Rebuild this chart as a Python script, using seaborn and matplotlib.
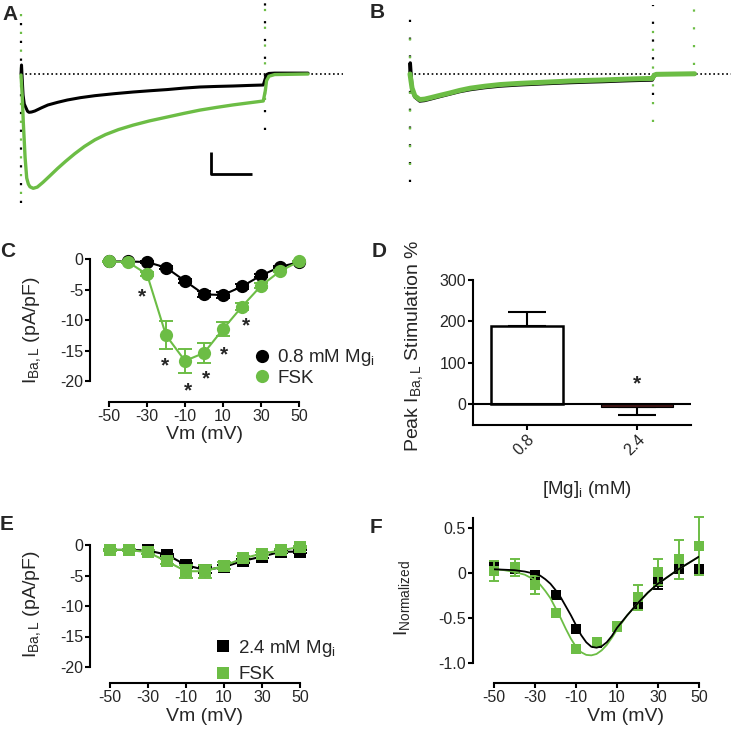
import matplotlib
matplotlib.use("Agg")
import matplotlib.pyplot as plt
from matplotlib.lines import Line2D
from matplotlib.colors import to_hex
import seaborn as sns

W, H = 733, 739
GREEN = "#6cbd45"
BLACK = "#000000"
MAROON = "#4a1010"

# A: example Ba currents, 0.8 mM Mg, control vs FSK (ms, pA)
a_ctl_t = [0, 0.6, 1.5, 2.5, 4, 6.2, 8, 9.8, 13, 17, 25, 33, 45, 57, 73, 91, 115, 138, 160, 180, 200,
           220, 240, 261, 280, 298, 300.5, 302, 305, 312, 353]
a_ctl_i = [0, 81, -50, -189, -270, -306, -335, -345, -342, -333, -305, -279, -255, -234, -213, -195,
           -177, -162, -150, -140, -127, -117, -112, -108, -103, -99, -40, -5, 5, 8, 8]
a_fsk_t = [0, 1.5, 2.8, 5, 7, 9, 11, 15, 20, 27, 35, 45, 55, 66, 78, 91, 104, 120, 138, 158, 180, 200,
           220, 241, 261, 280, 298, 300.5, 302, 305, 312, 353]
a_fsk_i = [-9, -200, -432, -750, -936, -990, -1015, -1029, -1018, -975, -920, -850, -785, -718, -652,
           -592, -545, -500, -460, -422, -387, -355, -325, -300, -278, -260, -243, -150, -60, -20, -5, 0]

# B: example Ba currents, 2.4 mM Mg
b_ctl_t = [0, 0.3, 2.5, 6, 12, 18, 25, 37, 49, 61, 74, 92, 111, 133, 156, 177, 197, 217, 237, 255, 271,
           285, 298, 300.5, 303, 350]
b_ctl_i = [0, 99, -144, -207, -243, -238, -225, -202, -180, -158, -140, -122, -108, -98, -90, -83, -77,
           -72, -68, -63, -59, -56, -54, -15, -3, 0]
b_fsk_t = [0, 2.5, 6, 12, 18, 25, 37, 49, 61, 74, 92, 111, 133, 156, 177, 197, 217, 237, 255, 271, 285,
           298, 300.5, 303, 350]
b_fsk_i = [0, -126, -198, -230, -226, -214, -192, -171, -148, -128, -110, -95, -85, -77, -70, -63, -58,
           -54, -49, -45, -42, -40, -10, -3, 2]

# C: I-V, 0.8 mM Mg
vm = [-50, -40, -30, -20, -10, 0, 10, 20, 30, 40, 50]
c_ctl = [-0.4, -0.4, -0.5, -1.4, -3.6, -5.8, -5.9, -4.5, -2.7, -1.3, -0.5]
c_ctl_sem = [0.1, 0.1, 0.1, 0.2, 0.4, 0.5, 0.5, 0.4, 0.3, 0.2, 0.1]
c_fsk = [-0.4, -0.5, -2.5, -12.5, -16.7, -15.4, -11.5, -7.8, -4.4, -2.0, -0.4]
c_fsk_sem = [0.1, 0.1, 0.3, 2.3, 2.0, 1.6, 1.1, 0.6, 0.4, 0.2, 0.1]
c_star_vm = [-32.5, -20.4, -8.2, 1.2, 10.4, 21.9]
c_star_y = [-5.3, -16.6, -20.7, -18.7, -14.8, -10.0]

# D: peak stimulation by FSK
d_mg = ["0.8", "2.4"]
d_stim = [189, -7]
d_sem = [34, 20]
d_star_y = 62

# E: I-V, 2.4 mM Mg
e_ctl = [-0.8, -0.8, -0.9, -1.6, -3.3, -4.1, -3.6, -2.6, -1.9, -1.1, -1.1]
e_ctl_sem = [0.1, 0.1, 0.1, 0.2, 0.4, 0.5, 0.4, 0.3, 0.2, 0.2, 0.2]
e_fsk = [-0.8, -0.8, -1.2, -2.7, -4.3, -4.3, -3.4, -2.2, -1.4, -0.9, -0.3]
e_fsk_sem = [0.2, 0.2, 0.3, 0.4, 1.1, 1.1, 0.6, 0.4, 0.3, 0.2, 0.2]

# F: normalized I-V with fits
f_ctl = [0.08, 0.04, -0.02, -0.24, -0.62, -0.78, -0.59, -0.35, -0.10, 0.06, 0.04]
f_ctl_sem = [0.03, 0.03, 0.03, 0.03, 0.03, 0.03, 0.03, 0.03, 0.08, 0.06, 0.02]
f_fsk = [0.02, 0.06, -0.13, -0.45, -0.84, -0.77, -0.59, -0.27, 0.01, 0.15, 0.30]
f_fsk_sem = [0.11, 0.09, 0.10, 0.03, 0.03, 0.03, 0.05, 0.14, 0.14, 0.22, 0.32]
f_fit_vm = [-50, -45, -40, -35, -30, -27.5, -25, -22.5, -20, -17.5, -15, -12.5, -10, -7.5, -5, -2.5,
            0, 2.5, 5, 7.5, 10, 12.5, 15, 20, 25, 30, 35, 40, 45, 50]
f_fit_ctl = [0.04, 0.035, 0.03, 0.015, -0.01, -0.03, -0.07, -0.12, -0.19, -0.27, -0.37, -0.47, -0.58,
             -0.69, -0.77, -0.82, -0.83, -0.815, -0.77, -0.70, -0.61, -0.54, -0.47, -0.34, -0.22,
             -0.12, -0.04, 0.04, 0.11, 0.18]
f_fit_fsk = [0.04, 0.03, 0.01, -0.02, -0.08, -0.13, -0.20, -0.28, -0.39, -0.50, -0.62, -0.73, -0.82,
             -0.88, -0.91, -0.915, -0.90, -0.86, -0.80, -0.72, -0.63, -0.55, -0.47, -0.34, -0.22,
             -0.12, -0.04, 0.04, 0.11, 0.18]

sns.set_theme(style="ticks")
plt.rcParams["font.family"] = ["Liberation Sans", "DejaVu Sans"]
plt.rcParams["mathtext.fontset"] = "custom"
plt.rcParams["mathtext.rm"] = "Liberation Sans"
plt.rcParams["mathtext.it"] = "Liberation Sans:italic"
plt.rcParams["axes.unicode_minus"] = False

TICK_FS = 11.5
LABEL_FS = 14

fig = plt.figure(figsize=(W / 100, H / 100), dpi=100)


def add_ax(x0, y0, x1, y1):
    # pixel box (top-left origin) -> figure axes
    return fig.add_axes([x0 / W, 1 - y1 / H, (x1 - x0) / W, (y1 - y0) / H])


def trace_panel(ax, ctl_t, ctl_i, fsk_t, fsk_i, lw_ctl, lw_fsk, xlim, art):
    ax.set_xlim(*xlim)
    ax.set_ylim(-1224, 666)
    ax.axis("off")
    ax.plot([0, xlim[1] - 2], [0, 0], color=BLACK, lw=1.2, ls=(0, (1, 1.6)), zorder=1)
    for t, lo, hi, c in art:
        ax.plot([t, t], [lo, hi], color=c, lw=1.6, ls=(0, (1, 7)), zorder=1)
    sns.lineplot(x=ctl_t, y=ctl_i, ax=ax, color=BLACK, lw=lw_ctl, errorbar=None, sort=False, zorder=3)
    sns.lineplot(x=fsk_t, y=fsk_i, ax=ax, color=GREEN, lw=lw_fsk, errorbar=None, sort=False, zorder=4)


# ---- A ----
axA = add_ax(15, 0, 345, 210)
trace_panel(axA, a_ctl_t, a_ctl_i, a_fsk_t, a_fsk_i, 2.2, 2.4, (-7.4, 398.5),
            [(0, -1165, 460, BLACK), (0.5, -1080, 660, GREEN), (300, -504, 666, BLACK), (300.5, -234, 640, GREEN)])
axA.plot([234, 234, 284], [-700, -900, -900], color=BLACK, lw=2, solid_capstyle="butt")

# ---- B ----
axB = add_ax(400, 0, 733, 210)
trace_panel(axB, b_ctl_t, b_ctl_i, b_fsk_t, b_fsk_i, 2.5, 3.6, (-12.3, 397.3),
            [(0, -972, 620, BLACK), (0.5, -820, 350, GREEN), (299, -190, 620, BLACK),
             (299.5, -430, 500, GREEN), (349, 80, 640, GREEN)])


def iv_axes(ax, left_px, bottom_px, ylim, yticks, yticklabels, ybounds):
    ax.set_xlim(-50, 50)
    ax.set_ylim(*ylim)
    ax.set_xticks([-50, -30, -10, 10, 30, 50])
    ax.set_xticklabels(["-50", "-30", "-10", "10", "30", "50"])
    ax.set_yticks(yticks)
    ax.set_yticklabels(yticklabels)
    sns.despine(ax=ax)
    ax.spines["left"].set_position(("outward", left_px * 0.72))
    ax.spines["bottom"].set_position(("outward", bottom_px * 0.72))
    ax.spines["left"].set_bounds(*ybounds)
    ax.spines["bottom"].set_bounds(-50, 50)
    for s in ("left", "bottom"):
        ax.spines[s].set_linewidth(1.5)
        ax.spines[s].set_color(BLACK)
    ax.tick_params(direction="out", length=3.5, width=1.5, labelsize=TICK_FS, pad=1.5, color=BLACK)
    ax.set_xlabel("Vm (mV)", fontsize=LABEL_FS)


def iv_series(ax, y, sem, color, marker, ms, lw, capsize, z, line=True):
    ax.errorbar(vm, y, yerr=sem, fmt="none", ecolor=color, elinewidth=1.4, capsize=capsize,
                capthick=1.4, zorder=z, clip_on=False)
    sns.lineplot(x=vm, y=y, ax=ax, color=color, lw=lw if line else 0, marker=marker, markersize=ms,
                 markeredgewidth=0, errorbar=None, zorder=z + 0.5, clip_on=False)


# ---- C ----
axC = add_ax(109, 259, 299, 381)
iv_series(axC, c_ctl, c_ctl_sem, BLACK, "o", 9.5, 1.5, 4.7, 3)
iv_series(axC, c_fsk, c_fsk_sem, GREEN, "o", 9.5, 1.5, 4.7, 5)
iv_axes(axC, 19, 21, (-20, 0), [0, -5, -10, -15, -20], ["0", "-5", "-10", "-15", "-20"], (-20, 0))
for x, y in zip(c_star_vm, c_star_y):
    axC.annotate("*", (x, y), xytext=(0, -8), textcoords="offset points", ha="center",
                 va="baseline", fontsize=15, fontweight="bold", annotation_clip=False)
axC.set_ylabel(r"$\mathregular{I_{Ba,L}}$ (pA/pF)", fontsize=LABEL_FS)
axC.yaxis.set_label_coords(-0.347, 0.418)
axC.xaxis.set_label_coords(0.505, -0.369)
hC = [Line2D([], [], ls="none", marker="o", markersize=9.5, markeredgewidth=0, color=BLACK),
      Line2D([], [], ls="none", marker="o", markersize=9.5, markeredgewidth=0, color=GREEN)]
axC.legend(hC, [r"0.8 mM Mg$\mathregular{_i}$", "FSK"], loc="center left", bbox_to_anchor=(0.758, 0.115),
           frameon=False, fontsize=13.5, borderpad=0, handlelength=1.0, handletextpad=0.3,
           labelspacing=0.05, borderaxespad=0)

# ---- D ----
axD = add_ax(473, 280, 691, 425)
axD.errorbar([0, 1], d_stim, yerr=[[0, d_sem[1]], [d_sem[0], 0]], fmt="none", ecolor=BLACK,
             elinewidth=1.5, capsize=14, capthick=1.5, zorder=0.5)
sns.barplot(x=d_mg, y=d_stim, hue=d_mg, palette=["white", MAROON], edgecolor=BLACK, linewidth=1.8,
            width=0.66, legend=False, errorbar=None, ax=axD, zorder=1)
for p in axD.patches:
    if to_hex(p.get_facecolor()) != "#ffffff":
        p.set_linewidth(0.8)
axD.axhline(0, color=BLACK, lw=1.5, zorder=2)
axD.set_xlim(-0.49, 1.49)
axD.set_ylim(-50, 300)
axD.set_yticks([0, 100, 200, 300])
sns.despine(ax=axD)
for s in ("left", "bottom"):
    axD.spines[s].set_linewidth(1.5)
    axD.spines[s].set_color(BLACK)
axD.tick_params(direction="out", length=3.5, width=1.5, labelsize=TICK_FS, pad=1.5, color=BLACK)
plt.setp(axD.get_xticklabels(), rotation=45, ha="right", rotation_mode="anchor")
axD.annotate("*", (1, d_star_y), xytext=(0, -8), textcoords="offset points", ha="center",
             va="baseline", fontsize=15, fontweight="bold")
axD.set_ylabel(r"Peak $\mathregular{I_{Ba,L}}$ Stimulation %", fontsize=LABEL_FS)
axD.set_xlabel(r"[Mg]$\mathregular{_i}$ (mM)", fontsize=13.5)
axD.yaxis.set_label_coords(-0.22, 0.545)
axD.xaxis.set_label_coords(0.523, -0.372)

# ---- E ----
axE = add_ax(110, 545, 300, 667)
iv_series(axE, e_ctl, e_ctl_sem, BLACK, "s", 9, 1.5, 4.7, 3)
iv_series(axE, e_fsk, e_fsk_sem, GREEN, "s", 9, 1.5, 4.7, 5)
iv_axes(axE, 20, 16, (-20, 0), [0, -5, -10, -15, -20], ["0", "-5", "-10", "-15", "-20"], (-20, 0))
axE.set_ylabel(r"$\mathregular{I_{Ba,L}}$ (pA/pF)", fontsize=LABEL_FS)
axE.yaxis.set_label_coords(-0.353, 0.516)
axE.xaxis.set_label_coords(0.5, -0.336)
hE = [Line2D([], [], ls="none", marker="s", markersize=9, markeredgewidth=0, color=BLACK),
      Line2D([], [], ls="none", marker="s", markersize=9, markeredgewidth=0, color=GREEN)]
axE.legend(hE, [r"2.4 mM Mg$\mathregular{_i}$", "FSK"], loc="center left", bbox_to_anchor=(0.547, 0.053),
           frameon=False, fontsize=13.5, borderpad=0, handlelength=1.0, handletextpad=0.3,
           labelspacing=0.4, borderaxespad=0)

# ---- F ----
axF = add_ax(494, 517, 699, 663)
iv_series(axF, f_ctl, f_ctl_sem, BLACK, "s", 7.3, 0, 3.3, 3, line=False)
iv_series(axF, f_fsk, f_fsk_sem, GREEN, "s", 7.3, 0, 3.3, 5, line=False)
sns.lineplot(x=f_fit_vm, y=f_fit_fsk, ax=axF, color=GREEN, lw=1.3, errorbar=None, zorder=7)
sns.lineplot(x=f_fit_vm, y=f_fit_ctl, ax=axF, color=BLACK, lw=1.3, errorbar=None, zorder=8)
iv_axes(axF, 21, 20, (-1.0, 0.62), [0.5, 0, -0.5, -1.0], ["0.5", "0", "-0.5", "-1.0"], (-1.0, 0.61))
axF.set_ylabel(r"$\mathregular{I_{Normalized}}$", fontsize=LABEL_FS)
axF.yaxis.set_label_coords(-0.4, 0.445)
axF.xaxis.set_label_coords(0.64, -0.308)

# panel letters (x, baseline in pixels)
for letter, x, yb in [("A", 2, 20), ("B", 370, 18), ("C", 0, 257), ("D", 372, 257), ("E", 0, 530), ("F", 370, 533)]:
    fig.text(x / W, 1 - yb / H, letter, fontsize=15, fontweight="bold", ha="left", va="baseline")

fig.savefig("out.png", dpi=100)
